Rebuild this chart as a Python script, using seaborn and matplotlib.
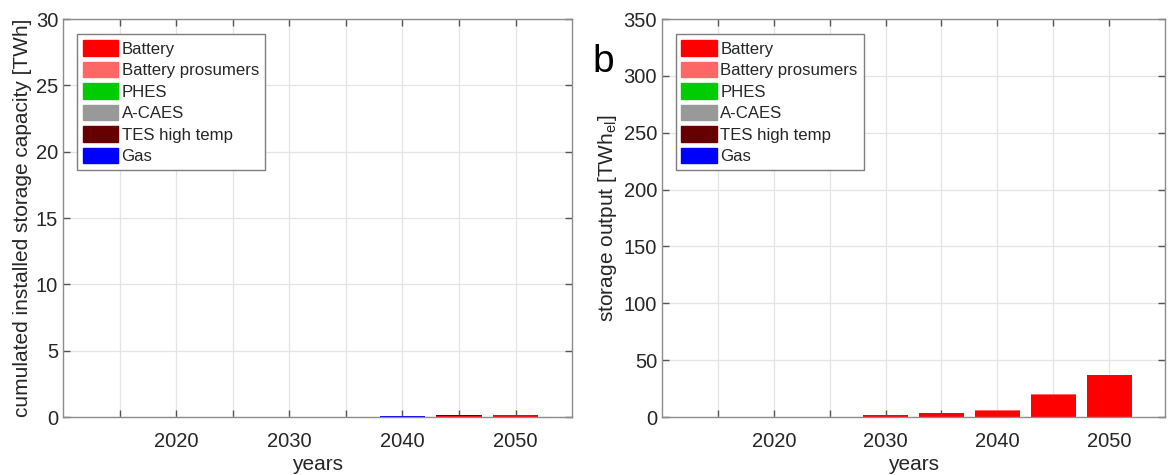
import numpy as np
import pandas as pd
import matplotlib
matplotlib.use("Agg")
import matplotlib.pyplot as plt
from matplotlib.patches import Patch
import seaborn as sns

# Scenario years and storage technologies
years = [2015, 2020, 2025, 2030, 2035, 2040, 2045, 2050]
techs = ["Battery", "Battery prosumers", "PHES", "A-CAES", "TES high temp", "Gas"]
colors = ["#ff0000", "#ff6666", "#00cc00", "#999999", "#660000", "#0000ff"]

# (a) cumulated installed storage capacity [TWh]
cap_battery = [0, 0, 0, 0, 0, 0.01, 0.09, 0.15]
cap_prosumers = [0, 0.005, 0, 0, 0.01, 0.02, 0.02, 0.02]
cap_phes = [0, 0, 0, 0, 0, 0, 0, 0]
cap_acaes = [0, 0, 0, 0, 0, 0, 0, 0]
cap_tes = [0, 0, 0, 0, 0.005, 0.01, 0.02, 0.01]
cap_gas = [0, 0.01, 0, 0, 0, 0.02, 0.01, 0.01]

# (b) storage output [TWh_el]
out_battery = [0, 0, 0, 1.8, 3.2, 5.6, 19.6, 36.8]
out_prosumers = [0, 0.4, 0, 0.1, 0.2, 0.3, 0.4, 0.5]
out_phes = [0, 0, 0, 0, 0, 0, 0, 0]
out_acaes = [0, 0, 0, 0, 0, 0, 0, 0]
out_tes = [0, 0, 0, 0, 0, 0, 0, 0]
out_gas = [0, 0, 0, 0, 0, 0, 0, 0]


def long_frame(series):
    rows = []
    for tech, vals in zip(techs, series):
        for y, v in zip(years, vals):
            rows.append({"year": y, "tech": tech, "value": v})
    return pd.DataFrame(rows)


cap_df = long_frame([cap_battery, cap_prosumers, cap_phes, cap_acaes, cap_tes, cap_gas])
out_df = long_frame([out_battery, out_prosumers, out_phes, out_acaes, out_tes, out_gas])

sns.set_theme(style="whitegrid")
plt.rcParams["font.family"] = ["Liberation Sans", "DejaVu Sans"]
plt.rcParams["mathtext.fontset"] = "custom"
plt.rcParams["mathtext.rm"] = "Liberation Sans"
plt.rcParams["mathtext.it"] = "Liberation Sans"

fig = plt.figure(figsize=(11.7, 4.75), dpi=100)
ax1 = fig.add_axes([0.0538, 0.122, 0.4352, 0.838])
ax2 = fig.add_axes([0.5658, 0.122, 0.4300, 0.838])

palette = dict(zip(techs, colors))
# seaborn stacks the last hue level at the bottom, so reverse to put Battery first
stack_order = techs[::-1]

spine_col = "#8c8c8c"
text_col = "#262626"


def draw(ax, df, ymax, ystep, ylabel):
    sns.histplot(data=df, x="year", weights="value", hue="tech",
                 hue_order=stack_order, palette=palette, multiple="stack",
                 binwidth=5, binrange=(2012.5, 2052.5), shrink=0.8,
                 alpha=1, linewidth=0, legend=False, ax=ax)
    ax.set_xlim(2010, 2055)
    ax.set_ylim(0, ymax)
    ax.set_xticks(np.arange(2015, 2051, 5))
    ax.set_xticklabels(["" if y % 10 else str(y) for y in range(2015, 2051, 5)])
    ax.set_yticks(np.arange(0, ymax + 1, ystep))
    ax.tick_params(axis="both", which="both", direction="in", length=5, width=1,
                   color="#555555", labelsize=14.5, labelcolor=text_col,
                   top=True, right=True, bottom=True, left=True)
    ax.tick_params(axis="x", pad=11)
    ax.grid(True, color="#e4e4e4", linewidth=0.9)
    ax.set_axisbelow(True)
    for s in ax.spines.values():
        s.set_visible(True)
        s.set_color(spine_col)
        s.set_linewidth(1.0)
    ax.set_xlabel("years", fontsize=15, color=text_col, labelpad=3)
    ax.set_ylabel(ylabel, fontsize=15, color=text_col, labelpad=3)
    handles = [Patch(facecolor=c, edgecolor=c, label=t) for t, c in zip(techs, colors)]
    leg = ax.legend(handles=handles, loc="upper left",
                    bbox_to_anchor=(0.027, 0.962), fontsize=12.1,
                    frameon=True, fancybox=False, framealpha=1,
                    edgecolor="#7f7f7f", handlelength=2.1, handleheight=1.05,
                    handletextpad=0.22, labelspacing=0.3, borderpad=0.35,
                    borderaxespad=0)
    leg.get_frame().set_linewidth(1.0)


draw(ax1, cap_df, 30, 5, "cumulated installed storage capacity [TWh]")
draw(ax2, out_df, 350, 50, "storage output [TWh$_{el}$]")

fig.text(0.516, 0.87, "b", fontsize=28, color="black", ha="center", va="center")

fig.savefig("out.png", dpi=100)
